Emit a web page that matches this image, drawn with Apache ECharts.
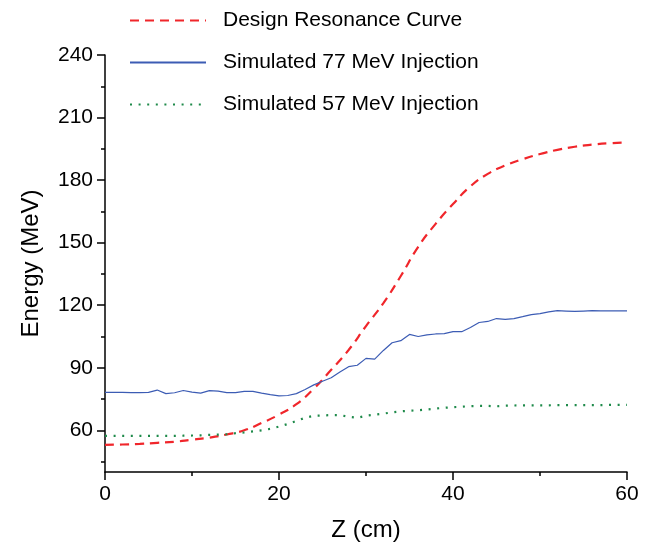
<!DOCTYPE html>
<html>
<head>
<meta charset="utf-8">
<script src="https://cdn.jsdelivr.net/npm/echarts@6/dist/echarts.min.js"></script>
<style>html,body{margin:0;padding:0;background:#fff;}#c{width:650px;height:547px;}</style>
</head>
<body>
<div id="c"></div>
<script>
const seriesNames = ['Design Resonance Curve', 'Simulated 77 MeV Injection', 'Simulated 57 MeV Injection'];
const designZ = [0,2,4,6,8,10,12,14,16,18,20,22,24,26,28,30,32,34,36,38,40,42,44,46,48,50,52,54,56,58,60];
const designE = [53,53.2,53.5,54,54.5,55.5,56.5,58,60,63.5,67.5,72.5,80,89,98.5,110,121,134,148,159,168.5,177,183,187,190,192.5,194.5,196,197,197.7,198];
const simZ = [0,1,2,3,4,5,6,7,8,9,10,11,12,13,14,15,16,17,18,19,20,21,22,23,24,25,26,27,28,29,30,31,32,33,34,35,36,37,38,39,40,41,42,43,44,45,46,47,48,49,50,51,52,53,54,55,56,57,58,59,60];
const sim77E = [78.2,78.2,78.2,78.1,78.1,78.2,79.3,77.6,78,79.1,78.3,77.8,79,78.8,78.1,78.1,78.7,78.7,77.8,77.1,76.5,76.7,77.6,79.6,81.8,83.5,85.2,88,90.5,91.2,94.5,94.1,98.3,102,103,106,105,105.8,106.2,106.4,107.3,107.3,109.3,111.7,112.2,113.6,113.2,113.6,114.5,115.5,116,116.8,117.4,117.2,117,117.2,117.4,117.3,117.3,117.3,117.3];
const sim57E = [57.3,57.3,57.3,57.3,57.3,57.3,57.3,57.3,57.3,57.4,57.5,57.6,57.8,57.9,58.1,58.6,59,59.5,60,60.7,61.8,63,64.5,66,67,67.1,67.3,67.3,66.5,66,67,67.5,68,68.6,69.1,69.4,69.6,70,70.4,70.8,71.1,71.3,71.6,71.7,71.7,71.5,71.8,71.9,72,72,72,72,72.1,72.1,72.1,72.1,72.1,72.1,72.2,72.2,72.2];
const yTickLabels = [60,90,120,150,180,210,240];
const yMinorTicks = [45,75,105,135,165,195,225];
const xTickLabels = [0,20,40,60];

const pair = (xs, ys) => xs.map((x, i) => [x, ys[i]]);
const font = 'Liberation Sans, Arial, sans-serif';
const chart = echarts.init(document.getElementById('c'), null, {renderer: 'canvas'});
chart.setOption({
  animation: false,
  backgroundColor: '#fff',
  grid: {left: 105, right: 23, top: 55, bottom: 73, containLabel: false},
  legend: {
    orient: 'vertical', left: 124, top: 5,
    itemWidth: 76, itemHeight: 20, itemGap: 21,
    itemStyle: {opacity: 0},
    textStyle: {fontFamily: font, fontSize: 21, color: '#000', padding: [0, 0, 0, 12]},
    data: seriesNames
  },
  xAxis: [{
    type: 'value', min: 0, max: 60, interval: 20,
    name: 'Z (cm)', nameLocation: 'middle', nameGap: 46,
    nameTextStyle: {fontFamily: font, fontSize: 24, color: '#000'},
    axisLine: {show: true, onZero: false, lineStyle: {color: '#000', width: 1.5}},
    axisTick: {show: true, length: 8, inside: false, lineStyle: {color: '#000', width: 1.5}},
    minorTick: {show: true, splitNumber: 2, length: 4, lineStyle: {color: '#000', width: 1.5}},
    axisLabel: {fontFamily: font, fontSize: 21, color: '#000', margin: 12, customValues: xTickLabels},
    splitLine: {show: false}
  }],
  yAxis: [{
    type: 'value', min: 40, max: 240,
    name: 'Energy (MeV)', nameLocation: 'middle', nameGap: 62,
    nameTextStyle: {fontFamily: font, fontSize: 24, color: '#000'},
    axisLine: {show: true, onZero: false, lineStyle: {color: '#000', width: 1.5}},
    axisTick: {show: true, length: 8, customValues: yTickLabels, lineStyle: {color: '#000', width: 1.5}},
    axisLabel: {fontFamily: font, fontSize: 21, color: '#000', margin: 12, customValues: yTickLabels},
    splitLine: {show: false}
  }, {
    type: 'value', min: 40, max: 240, position: 'left',
    axisLine: {show: false},
    axisTick: {show: true, length: 4, customValues: yMinorTicks, lineStyle: {color: '#000', width: 1.5}},
    axisLabel: {show: false},
    splitLine: {show: false}
  }],
  series: [{
    name: seriesNames[0], type: 'line', data: pair(designZ, designE), smooth: true,
    showSymbol: false, symbol: 'none',
    lineStyle: {color: '#f0262b', width: 2.2, type: [9, 6]},
    itemStyle: {color: '#f0262b', opacity: 0}
  }, {
    name: seriesNames[1], type: 'line', data: pair(simZ, sim77E),
    showSymbol: false, symbol: 'none',
    lineStyle: {color: '#3c5cb4', width: 1.2},
    itemStyle: {color: '#3c5cb4', opacity: 0}
  }, {
    name: seriesNames[2], type: 'line', data: pair(simZ, sim57E),
    showSymbol: false, symbol: 'none',
    lineStyle: {color: '#1e8a4a', width: 2.2, type: [2, 6.6]},
    itemStyle: {color: '#1e8a4a', opacity: 0}
  }]
});
</script>
</body>
</html>
